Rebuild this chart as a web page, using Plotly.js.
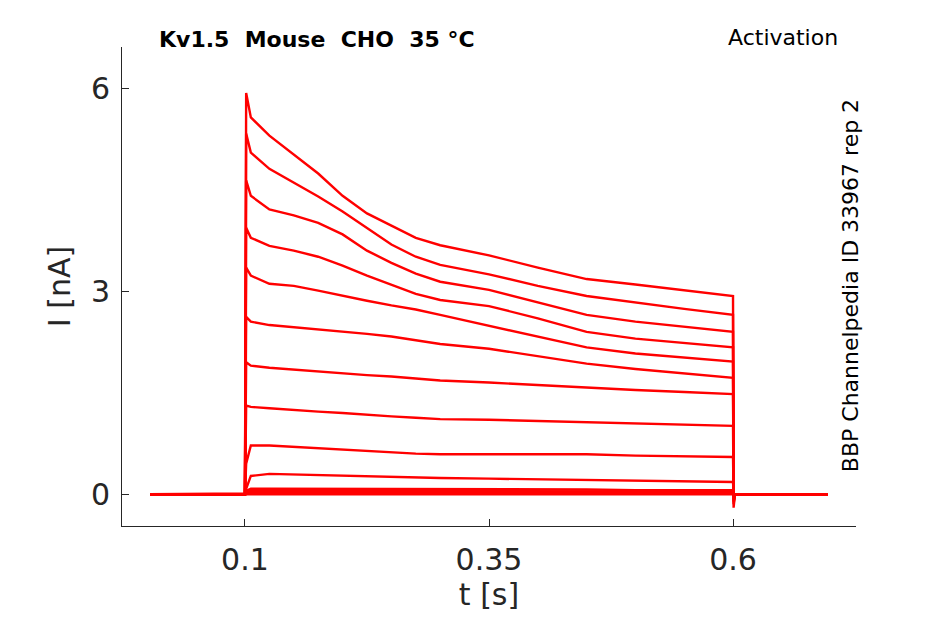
<!DOCTYPE html>
<html>
<head>
<meta charset="utf-8">
<script src="https://cdn.plot.ly/plotly-3.0.1.min.js"></script>
<style>
  body { margin: 0; background: #fff; }
  #myDiv { width: 945px; height: 624px; }
</style>
</head>
<body>
<div id="myDiv"></div>
<script>
// sample times [s], shared by every sweep
var tPts = [0.0027, 0.1, 0.1012, 0.106, 0.125, 0.15, 0.175, 0.2, 0.225, 0.25, 0.275, 0.3,
            0.35, 0.4, 0.45, 0.5, 0.55, 0.6, 0.6006, 0.602, 0.697];

// current [nA] per sweep (top to bottom)
var sweep1  = [0, 0, 5.93, 5.57, 5.30, 5.02, 4.74, 4.41, 4.15, 3.97, 3.79, 3.68, 3.53, 3.35, 3.18, 3.10, 3.02, 2.93, -0.20, 0, 0];
var sweep2  = [0, 0, 5.33, 5.05, 4.81, 4.61, 4.40, 4.18, 3.93, 3.69, 3.51, 3.39, 3.25, 3.08, 2.93, 2.83, 2.74, 2.65, -0.15, 0, 0];
var sweep3  = [0, 0, 4.64, 4.41, 4.21, 4.12, 4.01, 3.84, 3.60, 3.42, 3.26, 3.14, 3.02, 2.84, 2.65, 2.55, 2.47, 2.40, -0.12, 0, 0];
var sweep4  = [0, 0, 3.94, 3.79, 3.67, 3.60, 3.51, 3.38, 3.23, 3.10, 2.96, 2.87, 2.78, 2.60, 2.40, 2.30, 2.23, 2.17, -0.10, 0, 0];
var sweep5  = [0, 0, 3.35, 3.23, 3.11, 3.08, 3.01, 2.93, 2.86, 2.79, 2.73, 2.65, 2.49, 2.32, 2.17, 2.08, 2.02, 1.96, -0.08, 0, 0];
var sweep6  = [0, 0, 2.62, 2.55, 2.50, 2.47, 2.44, 2.41, 2.37, 2.33, 2.28, 2.22, 2.15, 2.04, 1.93, 1.85, 1.78, 1.72, -0.06, 0, 0];
var sweep7  = [0, 0, 1.95, 1.90, 1.87, 1.84, 1.81, 1.79, 1.76, 1.74, 1.71, 1.68, 1.65, 1.61, 1.57, 1.54, 1.51, 1.48, -0.05, 0, 0];
var sweep8  = [0, 0, 1.31, 1.29, 1.27, 1.24, 1.22, 1.20, 1.17, 1.15, 1.13, 1.11, 1.10, 1.08, 1.06, 1.04, 1.03, 1.01, -0.03, 0, 0];
var sweep9  = [0, 0, 0.45, 0.72, 0.72, 0.70, 0.67, 0.65, 0.63, 0.62, 0.60, 0.59, 0.59, 0.59, 0.59, 0.57, 0.56, 0.55, 0, 0, 0];
var sweep10 = [0, 0, 0.08, 0.27, 0.30, 0.29, 0.28, 0.27, 0.26, 0.25, 0.24, 0.24, 0.23, 0.22, 0.20, 0.19, 0.19, 0.18, 0, 0, 0];
var sweep11 = [0, 0, 0.05, 0.08, 0.08, 0.08, 0.08, 0.08, 0.07, 0.07, 0.07, 0.07, 0.07, 0.07, 0.07, 0.06, 0.06, 0.06, 0, 0, 0];
var sweep12 = [0, 0, 0.03, 0.05, 0.05, 0.05, 0.05, 0.04, 0.04, 0.04, 0.04, 0.04, 0.04, 0.04, 0.04, 0.04, 0.04, 0.04, 0, 0, 0];
var sweep13 = [0, 0, 0.01, 0.02, 0.02, 0.02, 0.02, 0.02, 0.02, 0.02, 0.02, 0.02, 0.02, 0.02, 0.02, 0.02, 0.02, 0.02, 0, 0, 0];
var sweep14 = [0, 0, 0, 0.01, 0.01, 0.01, 0.01, 0.01, 0.01, 0.01, 0.01, 0.01, 0.01, 0.01, 0.01, 0.01, 0.01, 0.01, 0, 0, 0];

var sweeps = [sweep1, sweep2, sweep3, sweep4, sweep5, sweep6, sweep7,
              sweep8, sweep9, sweep10, sweep11, sweep12, sweep13, sweep14];

var xTicks = [0.1, 0.35, 0.6];
var xTickText = ['0.1', '0.35', '0.6'];
var yTicks = [0, 3, 6];

var font = 'DejaVu Sans, Verdana, sans-serif';
var ink = '#262626';

var data = sweeps.map(function (s) {
    return {
        x: tPts,
        y: s,
        type: 'scatter',
        mode: 'lines',
        line: { color: 'rgb(255,0,0)', width: 2.4 },
        showlegend: false,
        hoverinfo: 'skip'
    };
});

var layout = {
    width: 945,
    height: 624,
    margin: { l: 122, r: 89, t: 47, b: 98 },
    paper_bgcolor: '#fff',
    plot_bgcolor: '#fff',
    showlegend: false,
    hovermode: false,
    font: { family: font, color: ink },
    xaxis: {
        range: [-0.026, 0.726],
        tickvals: xTicks,
        ticktext: xTickText,
        ticks: 'inside',
        ticklen: 7,
        tickcolor: ink,
        ticklabelstandoff: 7,
        showline: true,
        linecolor: ink,
        linewidth: 1,
        showgrid: false,
        zeroline: false,
        tickfont: { family: font, size: 30, color: ink },
        title: { text: 't [s]', font: { family: font, size: 30, color: ink }, standoff: 5 }
    },
    yaxis: {
        range: [-0.47, 6.61],
        tickvals: yTicks,
        ticks: 'inside',
        ticklen: 7,
        tickcolor: ink,
        ticklabelstandoff: 5,
        showline: true,
        linecolor: ink,
        linewidth: 1,
        showgrid: false,
        zeroline: false,
        tickfont: { family: font, size: 30, color: ink },
        title: { text: 'I [nA]', font: { family: font, size: 30, color: ink }, standoff: 11 }
    },
    annotations: [
        {
            xref: 'paper', yref: 'paper', x: 0.266, y: 1.015,
            xanchor: 'center', yanchor: 'middle', showarrow: false,
            text: '<b>Kv1.5\u00a0\u00a0Mouse\u00a0\u00a0CHO\u00a0\u00a035\u00a0°C</b>',
            font: { family: font, size: 22, color: '#000' }
        },
        {
            xref: 'paper', yref: 'paper', x: 0.9005, y: 1.019,
            xanchor: 'center', yanchor: 'middle', showarrow: false,
            text: 'Activation',
            font: { family: font, size: 22, color: '#000' }
        },
        {
            xref: 'paper', yref: 'paper', x: 0.992, y: 0.501,
            xanchor: 'center', yanchor: 'middle', showarrow: false,
            textangle: -90,
            text: 'BBP Channelpedia ID 33967 rep 2',
            font: { family: font, size: 22, color: '#000' }
        }
    ]
};

Plotly.newPlot('myDiv', data, layout, { displayModeBar: false, staticPlot: true });
</script>
</body>
</html>
